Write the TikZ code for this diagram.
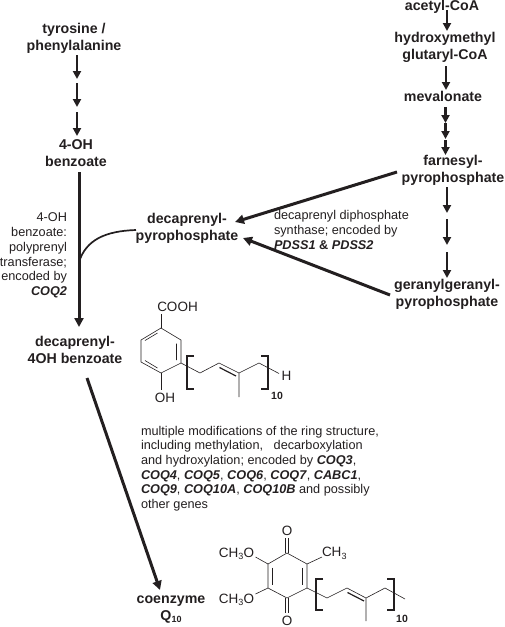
\documentclass[tikz,border=0pt]{standalone}
\usepackage{fontspec}
\setmainfont{Liberation Sans}
\usetikzlibrary{arrows.meta}
\definecolor{ink}{RGB}{35,31,32}
\newcommand{\gene}[1]{\textbf{\textit{#1}}}
\newcommand{\lowr}[1]{\raisebox{-2.5pt}{\fontsize{9}{9}\selectfont #1}}
\tikzset{
  met/.style={inner sep=0pt,outer sep=0pt,text=ink,align=center,font=\fontsize{14.2}{17}\selectfont\bfseries},
  note/.style={inner sep=0pt,outer sep=0pt,text=ink,font=\fontsize{12.7}{14.7}\selectfont},
  atom/.style={inner sep=0pt,outer sep=0pt,text=ink,font=\fontsize{13.5}{15}\selectfont},
  cnt/.style={inner sep=0pt,outer sep=0pt,text=ink,font=\fontsize{10.5}{11}\selectfont\bfseries},
  stepar/.style={draw=ink,line width=2.6pt,-{Triangle[length=8pt,width=8pt]}},
  longar/.style={draw=ink,line width=3pt,-{Triangle[length=9pt,width=9pt]}},
  bond/.style={draw=ink,line width=0.6pt},
  brk/.style={draw=ink,line width=1.8pt,line cap=butt},
}
\begin{document}
\begin{tikzpicture}[x=1pt,y=-1pt]
\useasboundingbox (0,0) rectangle (505,627);
% metabolites
\node[met] (tyr) at (74,38.5) {tyrosine /\\phenylalanine};
\node[met] (ohb) at (76,153.5) {4-OH\\benzoate};
\node[met] (dba) at (75,349.5) {decaprenyl-\\4OH benzoate};
\node[met] (dpp) at (187,228) {decaprenyl-\\pyrophosphate};
\node[met] (ace) at (442,7) {acetyl-CoA};
\node[met] (hmg) at (445,47.5) {hydroxymethyl\\glutaryl-CoA};
\node[met] (mev) at (443,96.5) {mevalonate};
\node[met] (far) at (453,170.5) {farnesyl-\\pyrophosphate};
\node[met] (ger) at (447,294) {geranylgeranyl-\\pyrophosphate};
\node[met] (coq) at (171,609.5) {coenzyme\\Q\lowr{\textbf{10}}};
% notes
\node[note,align=right,anchor=east] (n1) at (67,255.5) {4-OH\\benzoate:\\polyprenyl\\transferase;\\encoded by\\\gene{COQ2}};
\node[note,align=left,anchor=west] (n2) at (274,230) {decaprenyl diphosphate\\synthase; encoded by\\\gene{PDSS1} \textbf{\&} \gene{PDSS2}};
\node[note,align=left,anchor=west] (n3) at (141,468.5) {multiple modifications of the ring structure,\\including methylation,\ \ \ decarboxylation\\and hydroxylation; encoded by \gene{COQ3},\\\gene{COQ4}, \gene{COQ5}, \gene{COQ6}, \gene{COQ7}, \gene{CABC1},\\\gene{COQ9}, \gene{COQ10A}, \gene{COQ10B} and possibly\\other genes};
% connector ends
\foreach \n/\x/\y in {a1/77/55,a2/77/79,b1/77/83,b2/77/107,c1/77/112,c2/77/136,
  d1/79/172,d2/79/327,e1/79/262,e2/136/230,
  f1/447/10,f2/447/31,g1/446/66,g2/446/90,h1/445.5/107,h2/445.5/123,i1/445.5/123,i2/445.5/139,j1/445.5/140,j2/445.5/155,
  k1/447/187,k2/447/213,l1/447/219,l2/447/245,m1/447/252,m2/447/278,
  p1/397/172,p2/235/222,q1/390/295,q2/243/238,r1/87/378,r2/160/590}{\coordinate (\n) at (\x,\y);}
\foreach \s/\t in {a1/a2,b1/b2,c1/c2,f1/f2,g1/g2,h1/h2,i1/i2,j1/j2,k1/k2,l1/l2,m1/m2}{\draw[stepar] (\s) -- (\t);}
\foreach \s/\t in {d1/d2,p1/p2,q1/q2,r1/r2}{\draw[longar] (\s) -- (\t);}
\draw[draw=ink,line width=1.7pt] (e1) .. controls (86,240) and (105,231) .. (e2);
% benzoate ring
\node[atom] (cooh) at (177.5,307) {COOH};
\node[atom] (oh) at (165,397.5) {OH};
\node[atom] (hh) at (286.5,375.5) {H};
\foreach \n/\x/\y in {r1t/161/328,r1r/181/340,r1q/181/363,r1b/161/373,r1l/141/362,r1u/141/340,
  ct/161/314,ob/161/390,s1/200/373,s2/219/363,s3/239/373,s4/259/363,s5/279/373.5,sm/239/397}{\coordinate (\n) at (\x,\y);}
\draw[bond] (r1t)--(r1r)--(r1q)--(r1b)--(r1l)--(r1u)--cycle;
\draw[bond] (r1t)--(ct) (r1b)--(ob);
\draw[bond] (157.5,333)--(145,340.5) (176.5,343.5)--(176.5,360) (157.5,368)--(145,360.5);
\draw[bond] (r1q)--(s1)--(s2)--(s3)--(s4)--(s5) (s3)--(sm);
\draw[bond,line width=1.2pt] (219.5,367.5)--(236,376);
\draw[brk] (194,356)--(187,356)--(187,389)--(194,389);
\draw[brk] (261,356)--(268,356)--(268,389)--(261,389);
\node[cnt] (c10a) at (277,396) {10};
% quinone ring
\node[atom] (ot) at (287,531) {O};
\node[atom] (ob2) at (287,621) {O};
\node[atom,anchor=west] (ch3) at (322,553.5) {CH\lowr{3}};
\node[atom,anchor=east] (mo1) at (254,554) {CH\lowr{3}O};
\node[atom,anchor=east] (mo2) at (254,600) {CH\lowr{3}O};
\foreach \n/\x/\y in {qt/287/553,qr/307/564,qq/307/588,qb/287/598,ql/268/588,qu/268/564,
  w1/327/598,w2/347/588,w3/366/598,w4/385/588,w5/405/599,wm/366/621,
  m1e/255.5/557,m2e/255.5/594,m3e/322/557}{\coordinate (\n) at (\x,\y);}
\draw[bond] (qt)--(qr)--(qq)--(qb)--(ql)--(qu)--cycle;
\draw[bond] (285.5,553)--(285.5,538) (288.5,553)--(288.5,538);
\draw[bond] (285.5,598)--(285.5,613) (288.5,598)--(288.5,613);
\draw[bond] (272.5,567.5)--(272.5,584.5) (302.5,567.5)--(302.5,584.5);
\draw[bond] (qr)--(m3e) (qu)--(m1e) (ql)--(m2e);
\draw[bond] (qq)--(w1)--(w2)--(w3)--(w4)--(w5) (w3)--(wm);
\draw[bond,line width=1.2pt] (347.5,592.5)--(364,601);
\draw[brk] (323,579)--(316,579)--(316,610)--(323,610);
\draw[brk] (387,579)--(394,579)--(394,610)--(387,610);
\node[cnt] (c10b) at (402,619) {10};
\end{tikzpicture}
\end{document}
